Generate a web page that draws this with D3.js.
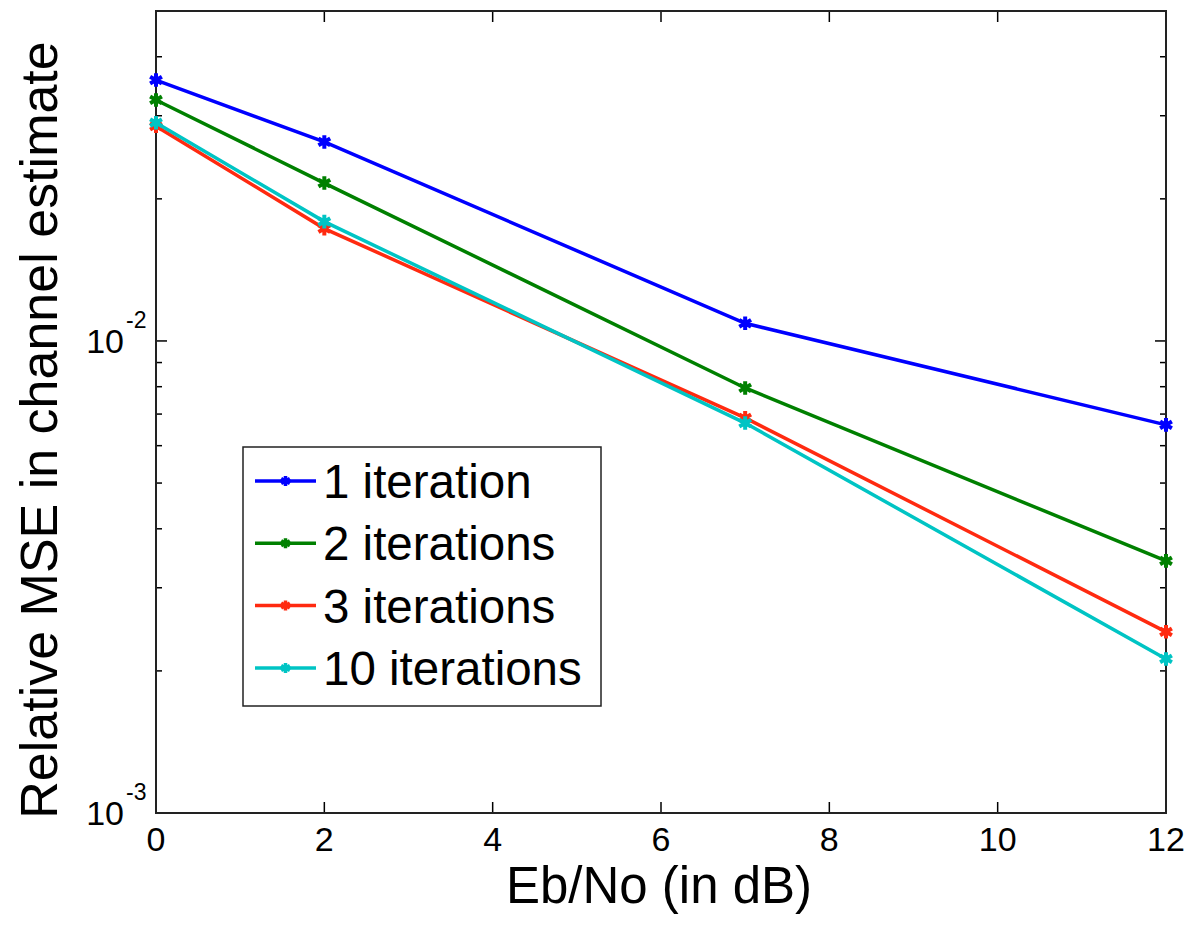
<!DOCTYPE html>
<html>
<head>
<meta charset="utf-8">
<script src="https://cdn.jsdelivr.net/npm/d3@7"></script>
<style>
  body { margin: 0; background: #fff; }
  text { font-family: "Liberation Sans", Arial, sans-serif; fill: #000; }
</style>
</head>
<body>
<svg></svg>
<script>
// data
const ebno = [0, 2, 7, 12];
const seriesNames = ["1 iteration", "2 iterations", "3 iterations", "10 iterations"];
const seriesColors = ["#0000ff", "#008000", "#ff2a10", "#00c4c4"];
const mse1 = [0.0357, 0.0264, 0.0109, 0.00664];
const mse2 = [0.0324, 0.0216, 0.00795, 0.00342];
const mse3 = [0.0285, 0.0173, 0.00687, 0.00242];
const mse10 = [0.0290, 0.0179, 0.00670, 0.00212];
const xTicks = [0, 2, 4, 6, 8, 10, 12];
const yDecades = [1e-3, 1e-2];

const allSeries = [mse1, mse2, mse3, mse10];

const width = 1186;
const height = 926;
const margin = { top: 11, left: 156, right: 20, bottom: 113 };

const svg = d3.select("svg").attr("width", width).attr("height", height);

const x = d3.scaleLinear().domain([0, 12]).range([margin.left, width - margin.right]);
const y = d3.scaleLog().domain([1e-3, 5e-2]).range([height - margin.bottom, margin.top]);

const x0 = x.range()[0], x1 = x.range()[1];
const y0 = y.range()[0], y1 = y.range()[1];

// minor log ticks
const minorVals = [];
[1e-3, 1e-2].forEach(d => {
  for (let k = 2; k <= 9; k++) {
    const v = d * k;
    if (v <= 5e-2) minorVals.push(v);
  }
});

const axisG = svg.append("g").attr("stroke", "#000");

// bottom and top ticks (inward)
xTicks.forEach(t => {
  axisG.append("line").attr("x1", x(t)).attr("x2", x(t)).attr("y1", y0).attr("y2", y0 - 11).attr("stroke-width", 1.5);
  axisG.append("line").attr("x1", x(t)).attr("x2", x(t)).attr("y1", y1).attr("y2", y1 + 11).attr("stroke-width", 1.5);
});
// left and right y ticks
yDecades.forEach(v => {
  axisG.append("line").attr("x1", x0).attr("x2", x0 + 11).attr("y1", y(v)).attr("y2", y(v)).attr("stroke-width", 1.5);
  axisG.append("line").attr("x1", x1).attr("x2", x1 - 11).attr("y1", y(v)).attr("y2", y(v)).attr("stroke-width", 1.5);
});
minorVals.forEach(v => {
  axisG.append("line").attr("x1", x0).attr("x2", x0 + 6).attr("y1", y(v)).attr("y2", y(v)).attr("stroke-width", 1.5);
  axisG.append("line").attr("x1", x1).attr("x2", x1 - 6).attr("y1", y(v)).attr("y2", y(v)).attr("stroke-width", 1.5);
});

// box
svg.append("rect")
  .attr("x", x0).attr("y", y1)
  .attr("width", x1 - x0).attr("height", y0 - y1)
  .attr("fill", "none").attr("stroke", "#222").attr("stroke-width", 2);

// x tick labels
svg.append("g").selectAll("text")
  .data(xTicks).enter().append("text")
  .attr("x", d => x(d)).attr("y", 851)
  .attr("text-anchor", "middle")
  .style("font-size", "34px")
  .text(d => d);

// y tick labels 10^-n
yDecades.forEach(v => {
  const e = Math.round(Math.log10(v));
  svg.append("text")
    .attr("x", 124).attr("y", y(v) + 12)
    .attr("text-anchor", "end")
    .style("font-size", "34px")
    .text("10");
  svg.append("text")
    .attr("x", 126).attr("y", y(v) - 13)
    .style("font-size", "23px")
    .text("-" + Math.abs(e));
});

// axis titles
svg.append("text")
  .attr("x", 659).attr("y", 903)
  .attr("text-anchor", "middle")
  .style("font-size", "51px")
  .text("Eb/No (in dB)");

svg.append("text")
  .attr("transform", "translate(57,430) rotate(-90)")
  .attr("text-anchor", "middle")
  .style("font-size", "52px")
  .text("Relative MSE in channel estimate");

// lines
const line = d3.line().x((d, i) => x(ebno[i])).y(d => y(d));
const marker = d3.symbol().type(d3.symbolAsterisk).size(130);

allSeries.forEach((vals, s) => {
  svg.append("path")
    .datum(vals)
    .attr("d", line)
    .attr("fill", "none")
    .attr("stroke", seriesColors[s])
    .attr("stroke-width", 3.5);
  svg.append("g").selectAll("path")
    .data(vals).enter().append("path")
    .attr("d", marker)
    .attr("transform", (d, i) => `translate(${x(ebno[i])},${y(d)})`)
    .attr("fill", "none")
    .attr("stroke", seriesColors[s])
    .attr("stroke-width", 4);
});

// legend
const legend = svg.append("g");
legend.append("rect")
  .attr("x", 243).attr("y", 447)
  .attr("width", 358).attr("height", 259)
  .attr("fill", "#fff").attr("stroke", "#222").attr("stroke-width", 1.5);

seriesNames.forEach((name, i) => {
  const ly = 481 + i * 62.3;
  legend.append("line")
    .attr("x1", 255).attr("x2", 316).attr("y1", ly).attr("y2", ly)
    .attr("stroke", seriesColors[i]).attr("stroke-width", 3.5);
  legend.append("path")
    .attr("d", d3.symbol().type(d3.symbolAsterisk).size(70))
    .attr("transform", `translate(285.5,${ly})`)
    .attr("fill", "none").attr("stroke", seriesColors[i]).attr("stroke-width", 3.5);
  legend.append("text")
    .attr("x", 323).attr("y", ly + 17)
    .style("font-size", "47.5px")
    .text(name);
});
</script>
</body>
</html>
